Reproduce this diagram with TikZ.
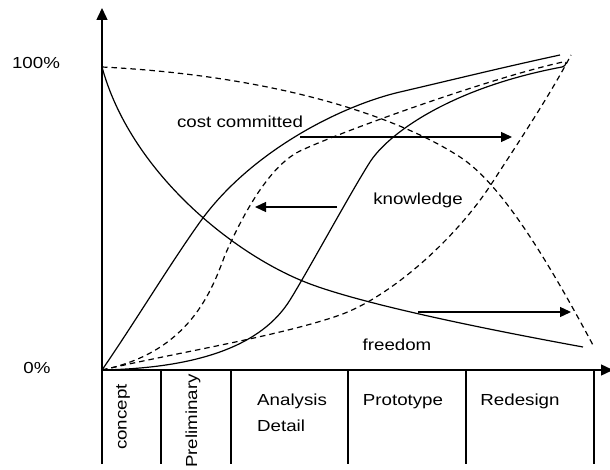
\documentclass[tikz,border=0pt]{standalone}
\usepackage{fontspec}
\setmainfont{Liberation Sans}[FakeStretch=1.17]
\usetikzlibrary{arrows.meta}
\begin{document}
\begin{tikzpicture}[x=1pt,y=-1pt,
  lbl/.style={font=\fontsize{16}{26}\selectfont, inner sep=0pt},
  solidc/.style={line width=1.2pt, line join=round},
  dashc/.style={line width=1.2pt, dash pattern=on 5.5pt off 4pt},
  divider/.style={line width=1.4pt},
  tip/.style={-{Triangle[length=11pt,width=10pt]}, line width=1.3pt},
  axtip/.style={-{Triangle[length=12pt,width=11pt]}, line width=1.4pt}]
\useasboundingbox (0,0) rectangle (610,470);
\fill[white] (0,0) rectangle (610,470);

% axes
\coordinate (O) at (102,370);
\coordinate (ybot) at (102,464);
\coordinate (ytop) at (102,8);
\coordinate (xend) at (613,370);
\draw[axtip] (ybot) -- (ytop);
\draw[axtip] (O) -- (xend);

% dividers
\foreach \x/\n in {161/a,231/b,348/c,466/d,594/e}{
  \coordinate (d\n t) at (\x,370);
  \coordinate (d\n b) at (\x,464);
  \draw[divider] (d\n t) -- (d\n b);
}

% freedom (solid, decreasing)
\draw[solidc] (102,67) .. controls (130,170) and (230,252) .. (305,282)
              .. controls (360,304) and (490,330) .. (583,347);
% cost committed (solid, rising)
\draw[solidc] (102,370) .. controls (135,322) and (170,264) .. (200,222)
              .. controls (250,152) and (340,106) .. (400,92)
              .. controls (460,78) and (500,68) .. (560,55);
% knowledge (solid S-curve)
\draw[solidc] (102,370) .. controls (200,368) and (262,345) .. (290,300)
              .. controls (308,271) and (352,190) .. (370,162)
              .. controls (388,134) and (450,88) .. (562,67)
              .. controls (565,66) .. (566,62);
% dashed decreasing
\draw[dashc] (102,67) .. controls (280,76) and (400,118) .. (460,157)
             .. controls (500,183) and (545,255) .. (594,347);
% dashed rising (upper)
\draw[dashc] (102,370) .. controls (190,352) and (212,290) .. (225,255)
             .. controls (237,228) and (265,168) .. (300,151)
             .. controls (340,132) and (490,78) .. (563,62);
% dashed rising (lower)
\draw[dashc] (102,370) .. controls (180,352) and (280,336) .. (340,315)
             .. controls (390,297) and (455,240) .. (492,183)
             .. controls (520,140) and (550,95) .. (571,55);

% arrows
\coordinate (a1s) at (300,137); \coordinate (a1e) at (512,137);
\coordinate (a2s) at (337,207); \coordinate (a2e) at (255,207);
\coordinate (a3s) at (418,312); \coordinate (a3e) at (571,312);
\draw[tip] (a1s) -- (a1e);
\draw[tip] (a2s) -- (a2e);
\draw[tip] (a3s) -- (a3e);

% labels
\node[lbl, anchor=base] (p100) at (36,69) {100\%};
\node[lbl, anchor=base] (p0) at (37,373) {0\%};
\node[lbl, anchor=base] (cost) at (240,128) {cost committed};
\node[lbl, anchor=base] (know) at (418,205) {knowledge};
\node[lbl, anchor=base] (free) at (397,350) {freedom};
\node[lbl, rotate=90] (concept) at (123,417) {concept};
\node[lbl, rotate=90] (prelim) at (193,421) {Preliminary};
\node[lbl, anchor=base west, align=left] (anal) at (257,431) {Analysis\\Detail};
\node[lbl, anchor=base] (proto) at (403,405) {Prototype};
\node[lbl, anchor=base] (redes) at (520,405) {Redesign};
\end{tikzpicture}
\end{document}
